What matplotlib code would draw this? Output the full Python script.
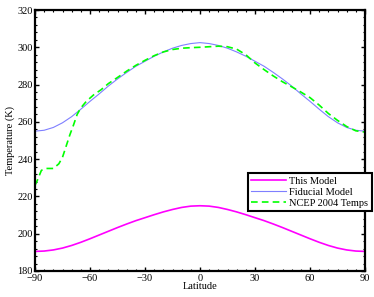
import numpy as np
import matplotlib
matplotlib.use("Agg")
import matplotlib.pyplot as plt
from matplotlib.ticker import MultipleLocator

# latitude grid for the two model curves (every 5 degrees)
lat_model = [-90, -85, -80, -75, -70, -65, -60, -55, -50, -45, -40, -35, -30, -25, -20, -15, -10, -5, 0,
             5, 10, 15, 20, 25, 30, 35, 40, 45, 50, 55, 60, 65, 70, 75, 80, 85, 90]
this_model = [190.5, 190.7, 191.3, 192.3, 193.7, 195.4, 197.3, 199.3, 201.3, 203.3, 205.2, 207.0,
              208.6, 210.2, 211.7, 213.0, 214.1, 214.8, 215.0,
              214.8, 214.1, 213.0, 211.7, 210.2, 208.6, 207.0, 205.2, 203.3, 201.3, 199.3,
              197.3, 195.4, 193.7, 192.3, 191.3, 190.7, 190.5]
fiducial = [255.0, 255.5, 257.0, 259.5, 262.8, 266.8, 271.0, 275.0, 279.2, 283.0, 286.5, 289.8,
            292.5, 295.2, 297.5, 299.5, 301.0, 302.0, 302.5,
            302.0, 301.0, 299.5, 297.5, 295.2, 292.5, 289.8, 286.5, 283.0, 279.2, 275.0,
            271.0, 266.8, 262.8, 259.5, 257.0, 255.5, 255.0]

# NCEP observed temperatures
lat_ncep = [-90, -89, -86.5, -84, -80, -77, -75, -73, -71, -69, -67, -65, -62,
            -58, -54, -50, -45, -40, -35, -30, -25, -20, -15, -10, -5, 0,
            5, 10, 15, 20, 25, 30, 35, 40, 45, 50, 55, 60, 65, 70, 75, 80, 85, 90]
ncep = [226.0, 228.0, 234.0, 235.0, 235.0, 237.5, 241.0, 247.0, 253.0, 258.3, 264.0, 267.5, 271.0,
        274.5, 277.2, 280.5, 283.8, 287.2, 290.3, 293.0, 295.5, 297.5, 298.8, 299.5, 299.8, 300.0,
        300.3, 300.6, 300.3, 299.0, 296.0, 291.6, 288.0, 284.6, 281.5, 278.8, 276.0, 273.0, 269.0, 264.5, 260.8, 257.5, 255.2, 254.5]

xticks = [-90, -60, -30, 0, 30, 60, 90]
xticklabels = ['\u221290', '\u221260', '\u221230', '0', '30', '60', '90']

plt.rcParams['font.family'] = ['Liberation Serif', 'DejaVu Serif']

fig = plt.figure(figsize=(3.74, 2.97), dpi=100)
ax = fig.add_axes([35 / 374, 1 - 271 / 297, 330 / 374, 261 / 297])

ax.plot(lat_model, this_model, color='#ff00ff', lw=1.2, label='This Model')
ax.plot(lat_model, fiducial, color='#7f7fff', lw=0.8, label='Fiducial Model')
ax.plot(lat_ncep, ncep, color='#00ff00', lw=1.2, ls=(0, (4, 2.5)), label='NCEP 2004 Temps')

ax.set_xlim(-90, 90)
ax.set_ylim(180, 320)
ax.set_xticks(xticks)
ax.set_xticklabels(xticklabels)
ax.xaxis.set_minor_locator(MultipleLocator(5))
ax.yaxis.set_major_locator(MultipleLocator(20))
ax.yaxis.set_minor_locator(MultipleLocator(4))

ax.tick_params(which='both', direction='in', top=True, right=True, labelsize=7.5)
ax.tick_params(axis='x', pad=2.5)
ax.tick_params(axis='y', pad=1.5)
ax.tick_params(which='major', length=3, width=1)
ax.tick_params(which='minor', length=1.6, width=0.8)
for s in ax.spines.values():
    s.set_linewidth(1.6)

ax.set_xlabel('Latitude', fontsize=7.5, labelpad=-1)
ax.set_ylabel('Temperature (K)', fontsize=7.5, labelpad=2)

leg = ax.legend(loc='upper right', bbox_to_anchor=(1.02, 0.375), fontsize=7.5,
                frameon=True, fancybox=False, framealpha=1, edgecolor='black',
                borderpad=0.35, labelspacing=0.15, handlelength=3.3, handletextpad=0.3,
                borderaxespad=0)
leg.get_frame().set_linewidth(1.5)

fig.savefig('out.png', dpi=100)
